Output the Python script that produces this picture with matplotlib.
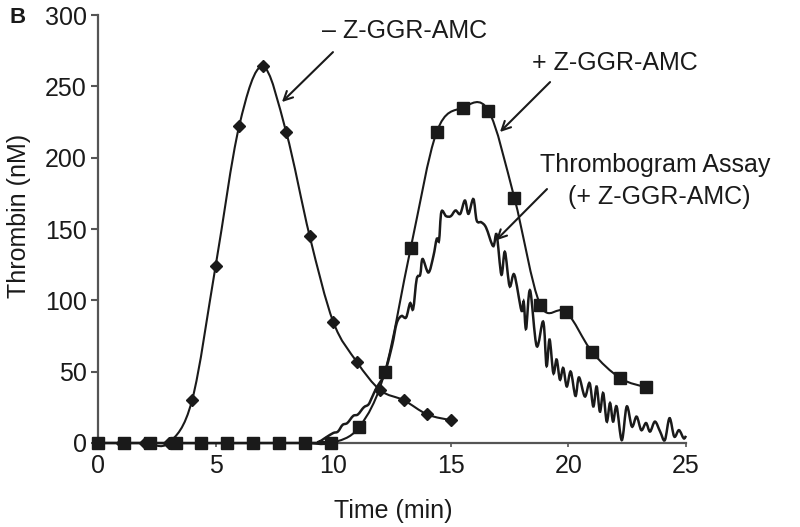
import matplotlib
matplotlib.use("Agg")
import matplotlib.pyplot as plt
import numpy as np
from matplotlib.path import Path
from matplotlib.patches import PathPatch

plt.rcParams['font.family'] = ['Liberation Sans', 'DejaVu Sans']

# - Z-GGR-AMC (diamonds)
minus_t = [0, 1, 2, 3, 4, 5, 6, 7, 8, 9, 10, 11, 12, 13, 14, 15]
minus_v = [0, 0, 0, 0, 30, 124, 222, 264, 218, 145, 85, 57, 37, 30, 20, 16]

# + Z-GGR-AMC (squares)
plus_t = [0, 1.1, 2.2, 3.3, 4.4, 5.5, 6.6, 7.7, 8.8, 9.9, 11.1,
          12.2, 13.3, 14.4, 15.5, 16.6, 17.7, 18.8, 19.9, 21.0, 22.2, 23.3]
plus_v = [0, 0, 0, 0, 0, 0, 0, 0, 0, 0, 11,
          50, 137, 218, 235, 233, 172, 97, 92, 64, 45.5, 39]

# Thrombogram assay trace
tg_t = [0, 9.0, 9.4, 9.7, 10.0, 10.2, 10.4, 10.6, 10.85, 11.05, 11.3, 11.5,
        11.65, 11.85, 12.05, 12.2, 12.5, 12.7, 12.9, 13.1, 13.27, 13.4, 13.55,
        13.7, 13.8, 14.05, 14.26, 14.4, 14.5, 14.6, 14.8, 15.0, 15.2, 15.4,
        15.6, 15.75, 15.96, 16.1, 16.3, 16.5, 16.8, 16.95, 17.15, 17.3, 17.5,
        17.7, 18.0, 18.1, 18.2, 18.37, 18.65, 18.93, 19.07, 19.2, 19.36, 19.5,
        19.64, 19.78, 19.93, 20.1, 20.3, 20.45, 20.7, 20.9, 21.06, 21.2, 21.34,
        21.48, 21.63, 21.77, 21.9, 22.05, 22.27, 22.48, 22.7, 22.9, 23.1, 23.3,
        23.47, 23.68, 23.9, 24.1, 24.3, 24.5, 24.7, 24.9, 25.0]
tg_v = [0, 0, 1, 4, 7, 8, 12.7, 14, 19, 20, 25, 27,
        32, 39, 44, 49, 68, 84, 89, 88, 98, 94, 115,
        118, 129, 119.5, 131, 143, 142, 162, 159, 159, 163, 160.6,
        170, 160.6, 171, 156, 154.7, 151, 138, 146, 118, 134, 110,
        118, 93, 99, 80, 107, 68, 85, 54, 72.5, 49, 58.5,
        44.4, 52.6, 39.6, 50, 33, 46, 32.6, 42, 25.6, 39.6, 22,
        35, 15, 28, 15, 25.6, 2, 25.6, 11.5, 18.5, 9, 14,
        8, 15, 8, 2, 17.4, 4.5, 9, 3.3, 5]


def smooth_path(x, y):
    # Excel-style smoothed line: cubic Bezier segments through the points
    pts = np.column_stack([x, y]).astype(float)
    n = len(pts)
    verts = [pts[0]]
    codes = [Path.MOVETO]
    for i in range(n - 1):
        p0 = pts[max(i - 1, 0)]
        p1 = pts[i]
        p2 = pts[i + 1]
        p3 = pts[min(i + 2, n - 1)]
        verts += [p1 + (p2 - p0) / 6, p2 - (p3 - p1) / 6, p2]
        codes += [Path.CURVE4] * 3
    return Path(verts, codes)


fig = plt.figure(figsize=(8, 5.27), dpi=100)
ax = fig.add_axes([0.1225, 0.1594, 0.735, 0.8121])

axis_col = '#555555'
ink = '#1a1a1a'
fs = 18

ax.add_patch(PathPatch(smooth_path(minus_t, minus_v), fill=False,
                       lw=1.5, color=ink, zorder=3, clip_on=False))
ax.add_patch(PathPatch(smooth_path(plus_t, plus_v), fill=False,
                       lw=1.5, color=ink, zorder=3, clip_on=False))
ax.add_patch(PathPatch(smooth_path(tg_t, tg_v), fill=False,
                       lw=1.8, color=ink, zorder=3, clip_on=False))

ax.plot(minus_t, minus_v, linestyle='none', marker='D', ms=6.5,
        color=ink, zorder=4, clip_on=False)
ax.plot(plus_t, plus_v, linestyle='none', marker='s', ms=8,
        color=ink, zorder=4, clip_on=False)

ax.set_xlim(0, 25)
ax.set_ylim(0, 300)
ax.set_xticks([0, 5, 10, 15, 20, 25])
ax.set_yticks([0, 50, 100, 150, 200, 250, 300])

for s in ['top', 'right']:
    ax.spines[s].set_visible(False)
for s in ['left', 'bottom']:
    ax.spines[s].set_color(axis_col)
    ax.spines[s].set_linewidth(1.6)

ax.tick_params(axis='y', length=5, width=1.5, color=axis_col, pad=3,
               labelsize=fs, labelcolor=ink)
ax.tick_params(axis='x', length=3, width=1.2, color=axis_col, pad=5,
               labelsize=fs, labelcolor=ink)

ax.set_xlabel('Time (min)', fontsize=fs, color=ink)
ax.xaxis.set_label_coords(0.502, -0.13)
ax.set_ylabel('Thrombin (nM)', fontsize=fs, color=ink)
ax.yaxis.set_label_coords(-0.114, 0.53)

arrow = dict(arrowstyle='->', lw=1.5, color=ink,
             shrinkA=0, shrinkB=0, mutation_scale=16)

ax.text(9.52, 288.7, '\u2013 Z-GGR-AMC', fontsize=fs, va='center',
        ha='left', color=ink)
ax.annotate('', xy=(7.82, 239), xytext=(9.99, 274), arrowprops=arrow)

ax.text(18.45, 266.3, '+ Z-GGR-AMC', fontsize=fs, va='center',
        ha='left', color=ink)
ax.annotate('', xy=(17.09, 218), xytext=(19.22, 253), arrowprops=arrow)

ax.text(23.68, 194.8, 'Thrombogram Assay', fontsize=fs, va='center',
        ha='center', color=ink)
ax.text(23.85, 172.4, '(+ Z-GGR-AMC)', fontsize=fs, va='center',
        ha='center', color=ink)
ax.annotate('', xy=(16.92, 142), xytext=(19.09, 178), arrowprops=arrow)

fig.text(0.012, 0.967, 'B', fontsize=16, fontweight='bold',
         va='center', ha='left', color=ink)

fig.savefig('out.png', dpi=100)
